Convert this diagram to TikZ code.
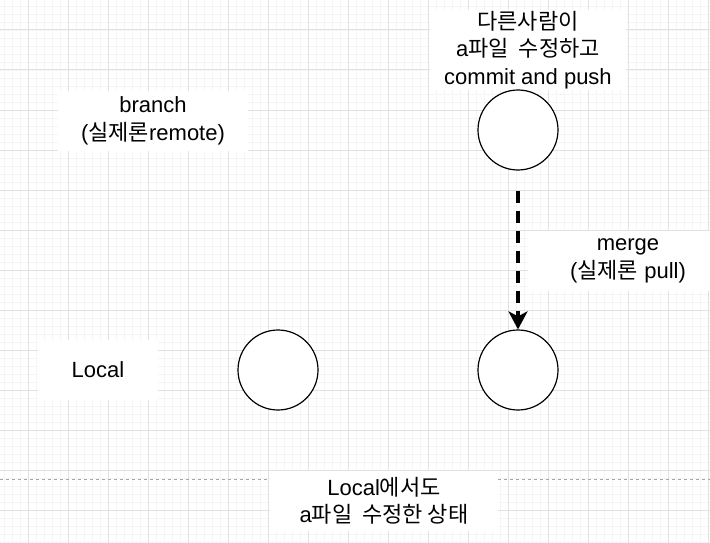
\documentclass[tikz,border=0pt]{standalone}
\usepackage{fontspec}
\setmainfont{Liberation Sans}
\newfontfamily\kr{Noto Sans CJK KR}
\usetikzlibrary{arrows.meta}
\definecolor{gridmajor}{HTML}{E2E2E2}
\definecolor{gridminor}{HTML}{F5F5F5}
\tikzset{
  lbl/.style={fill=white, inner sep=0pt, align=center,
    font=\fontsize{22}{27.5}\selectfont},
  commit/.style={circle, draw=black, line width=1.2pt, fill=white,
    minimum size=80pt, inner sep=0pt},
  mergearrow/.style={line width=3.8pt, dash pattern=on 12pt off 8pt,
    -{Stealth[length=18pt,width=19pt,inset=5pt]}, shorten <=20pt},
  sepline/.style={draw=black!35, line width=0.8pt, dash pattern=on 3pt off 3pt}
}
\begin{document}
\begin{tikzpicture}[x=1pt,y=-1pt]
\useasboundingbox (0,0) rectangle (710,543);
\fill[white] (0,0) rectangle (710,543);
% grid
\foreach \x in {4,12,...,708} \draw[gridminor, line width=0.8pt] (\x,0) -- (\x,543);
\foreach \y in {6,14,...,542} \draw[gridminor, line width=0.8pt] (0,\y) -- (710,\y);
\foreach \x in {28,68,...,708} \draw[gridmajor, line width=1pt] (\x,0) -- (\x,543);
\foreach \y in {30,70,...,510} \draw[gridmajor, line width=1pt] (0,\y) -- (710,\y);
% separator
\coordinate (sepL) at (0,479);
\coordinate (sepR) at (710,479);
\draw[sepline] (sepL) -- (sepR);
% labels
\node[lbl, minimum width=196pt, minimum height=80pt] (other) at (528,50)
  {{\kr 다른사람이}\\a{\kr 파일~~수정하고}\\commit and push};
\node[lbl, minimum width=190pt, minimum height=60pt] (branch) at (153,121)
  {branch\\({\kr 실제론}remote)};
\node[lbl, minimum width=200pt, minimum height=60pt] (merge) at (628,261)
  {merge\\({\kr 실제론} pull)};
\node[lbl, minimum width=120pt, minimum height=60pt] (local) at (98,370)
  {Local};
\node[lbl, minimum width=228pt, minimum height=60pt] (state) at (384,501)
  {Local{\kr 에서도}\\a{\kr 파일~~수정한 상태}};
% commits
\node[commit] (remote) at (518,130) {};
\node[commit] (loc1) at (278,370) {};
\node[commit] (loc2) at (518,370) {};
% arrow
\draw[mergearrow] (remote) -- (loc2);
\end{tikzpicture}
\end{document}
